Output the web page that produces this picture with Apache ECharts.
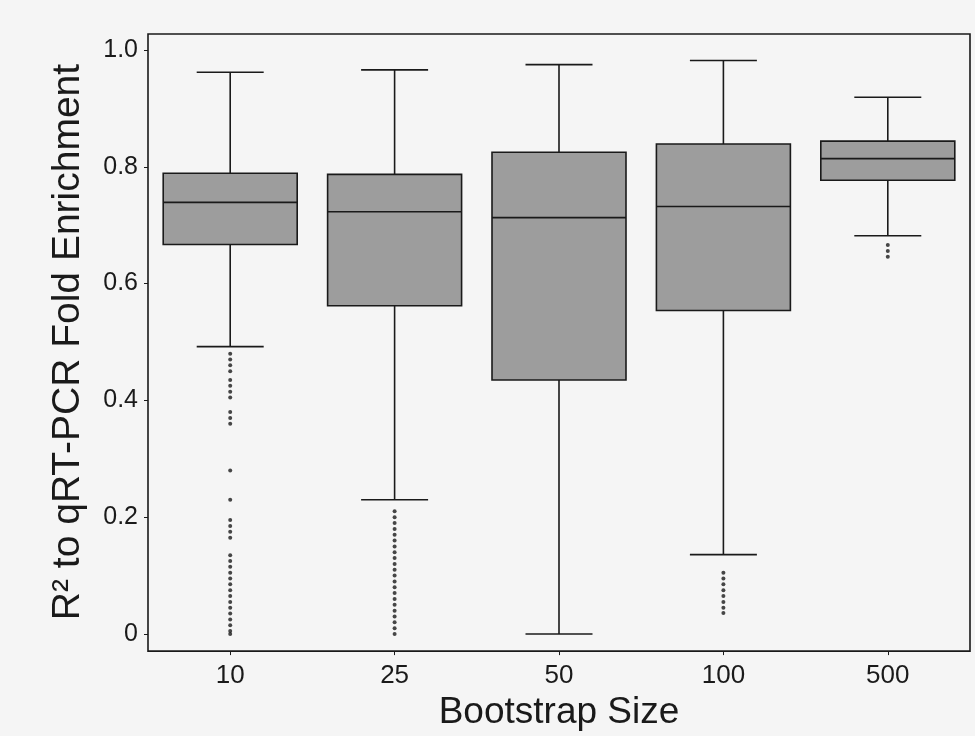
<!DOCTYPE html>
<html>
<head>
<meta charset="utf-8">
<script src="https://cdn.jsdelivr.net/npm/echarts@6/dist/echarts.min.js"></script>
<style>
  html, body { margin: 0; padding: 0; background: #f5f5f5; }
  #chart { width: 975px; height: 736px; }
</style>
</head>
<body>
<div id="chart"></div>
<script>
// bootstrap sizes on the x axis
const sizes = ['10', '25', '50', '100', '500'];

// box statistics
const whiskerLow = [0.492, 0.23, 0.0, 0.136, 0.682];
const q1 = [0.667, 0.562, 0.435, 0.554, 0.777];
const medians = [0.739, 0.723, 0.713, 0.732, 0.814];
const q3 = [0.789, 0.787, 0.825, 0.839, 0.844];
const whiskerHigh = [0.962, 0.966, 0.975, 0.982, 0.919];

// outliers (they stack into dotted runs in the scan)
const outliers10 = [0.48, 0.47, 0.46, 0.45, 0.435, 0.425, 0.415, 0.405, 0.38, 0.37, 0.36,
  0.28, 0.23, 0.195, 0.185, 0.175, 0.165, 0.135, 0.125, 0.115, 0.105, 0.095, 0.085, 0.075,
  0.065, 0.055, 0.045, 0.035, 0.025, 0.015, 0.005, 0.0];
const outliers25 = [0.21, 0.2, 0.19, 0.18, 0.17, 0.16, 0.15, 0.14, 0.13, 0.12, 0.11, 0.1,
  0.09, 0.08, 0.07, 0.06, 0.05, 0.04, 0.03, 0.02, 0.01, 0.0];
const outliers50 = [];
const outliers100 = [0.105, 0.095, 0.085, 0.075, 0.065, 0.055, 0.045, 0.036];
const outliers500 = [0.666, 0.656, 0.646];

const yTicks = [0, 0.2, 0.4, 0.6, 0.8, 1.0];

const ink = '#1a1a1a';
const boxFill = '#9d9d9d';

const boxData = sizes.map((s, i) => [i, whiskerLow[i], q1[i], medians[i], q3[i], whiskerHigh[i]]);
const outlierData = [];
[outliers10, outliers25, outliers50, outliers100, outliers500].forEach((list, i) => {
  list.forEach((v) => outlierData.push([i, v]));
});

const renderBox = (params, api) => {
  const i = api.value(0);
  const band = api.size([1, 0])[0];
  const boxW = band * 0.815;
  const capW = boxW / 2;
  const x = api.coord([i, 0])[0];
  const yLo = api.coord([i, api.value(1)])[1];
  const yQ1 = api.coord([i, api.value(2)])[1];
  const yMed = api.coord([i, api.value(3)])[1];
  const yQ3 = api.coord([i, api.value(4)])[1];
  const yHi = api.coord([i, api.value(5)])[1];
  const line = { stroke: ink, lineWidth: 1.6 };
  return {
    type: 'group',
    children: [
      { type: 'line', shape: { x1: x, y1: yHi, x2: x, y2: yQ3 }, style: line },
      { type: 'line', shape: { x1: x, y1: yQ1, x2: x, y2: yLo }, style: line },
      { type: 'line', shape: { x1: x - capW / 2, y1: yHi, x2: x + capW / 2, y2: yHi }, style: line },
      { type: 'line', shape: { x1: x - capW / 2, y1: yLo, x2: x + capW / 2, y2: yLo }, style: line },
      {
        type: 'rect',
        shape: { x: x - boxW / 2, y: yQ3, width: boxW, height: yQ1 - yQ3 },
        style: { fill: boxFill, stroke: ink, lineWidth: 1.6 },
      },
      { type: 'line', shape: { x1: x - boxW / 2, y1: yMed, x2: x + boxW / 2, y2: yMed }, style: line },
    ],
  };
};

const chart = echarts.init(document.getElementById('chart'));
const font = 'Liberation Sans, Arial, sans-serif';

const option = {
  backgroundColor: '#f5f5f5',
  animation: false,
  grid: [
    // outer frame with the x axis
    { left: 148, right: 5, top: 34, bottom: 74, show: true, borderColor: ink, borderWidth: 1.6, backgroundColor: 'transparent' },
    // data area mapped 0..1
    { left: 148, right: 5, top: 50, bottom: 102 },
  ],
  xAxis: [
    {
      gridIndex: 0,
      type: 'category',
      data: sizes,
      axisLine: { show: false },
      axisTick: { show: true, alignWithLabel: true, length: 4, lineStyle: { color: ink } },
      axisLabel: { fontSize: 26, color: ink, margin: 12, fontFamily: font },
      name: 'Bootstrap Size',
      nameLocation: 'middle',
      nameGap: 34,
      nameTextStyle: { fontSize: 37, color: ink, fontFamily: font },
    },
    { gridIndex: 1, type: 'category', data: sizes, show: false },
  ],
  yAxis: [
    { gridIndex: 0, type: 'value', min: 0, max: 1, show: false },
    {
      gridIndex: 1,
      type: 'value',
      min: yTicks[0],
      max: yTicks[yTicks.length - 1],
      interval: 0.2,
      splitLine: { show: false },
      axisLine: { show: false },
      axisTick: { show: true, length: 4, lineStyle: { color: ink } },
      axisLabel: {
        fontSize: 25,
        color: ink,
        margin: 10,
        fontFamily: font,
        formatter: (v) => (v === 0 ? '0' : v.toFixed(1)),
      },
      name: 'R² to qRT-PCR Fold Enrichment',
      nameLocation: 'middle',
      nameGap: 60,
      nameTextStyle: { fontSize: 39, color: ink, fontFamily: font, padding: [0, 0, 0, 0] },
    },
  ],
  series: [
    {
      type: 'custom',
      xAxisIndex: 1,
      yAxisIndex: 1,
      renderItem: renderBox,
      encode: { x: 0, y: [1, 2, 3, 4, 5] },
      data: boxData,
    },
    {
      type: 'scatter',
      xAxisIndex: 1,
      yAxisIndex: 1,
      symbol: 'circle',
      symbolSize: 4,
      itemStyle: { color: ink },
      data: outlierData,
    },
  ],
};

chart.setOption(option);
</script>
</body>
</html>
